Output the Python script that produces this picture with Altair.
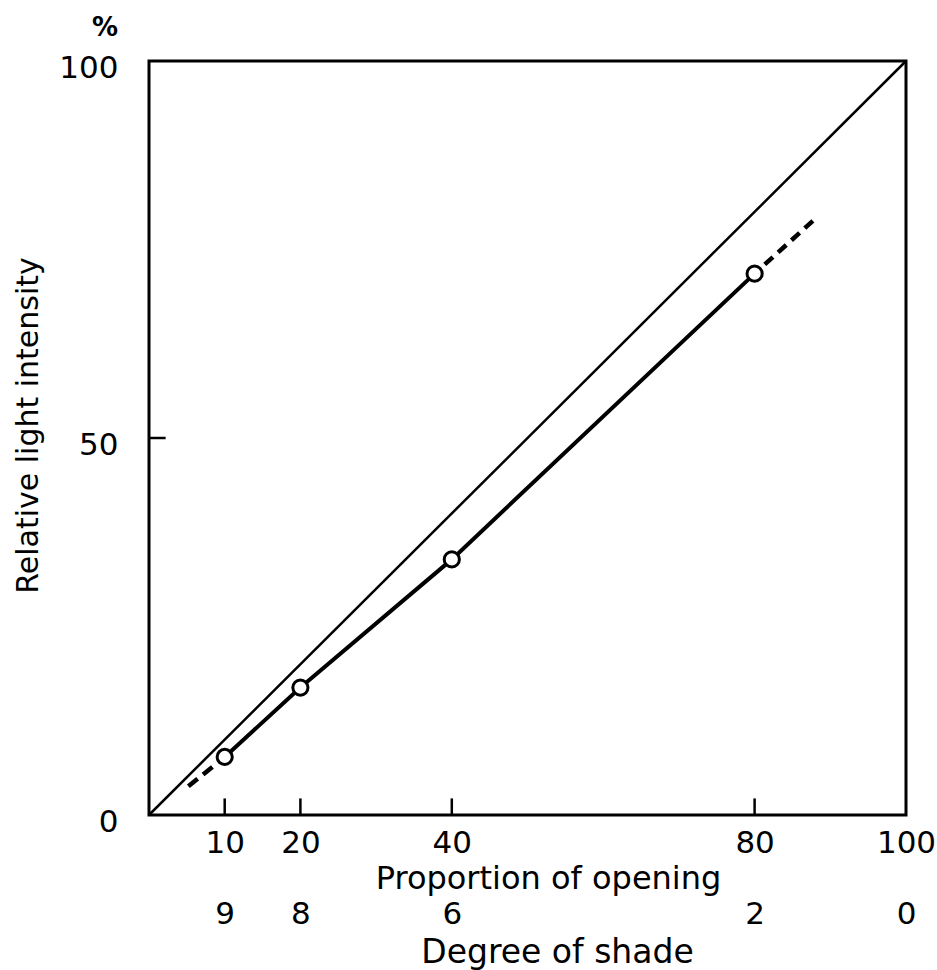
import altair as alt
import pandas as pd

# ---- data ----
opening = [10, 20, 40, 80]                 # proportion of opening (%)
intensity = [7.7, 16.9, 33.9, 71.8]        # relative light intensity (%)
dash_low_x = [10, 5.2]                     # dashed extension, drawn from the point outward
dash_low_y = [7.7, 3.8]
dash_high_x = [80, 87.7]
dash_high_y = [71.8, 78.8]
diag_x = [0, 100]
diag_y = [0, 100]
x_label_values = [10, 20, 40, 80, 100]
shade_labels = ["9", "8", "6", "2", "0"]
y_label_values = [0, 50, 100]
inner_x_ticks = [10, 20, 40, 80]
inner_y_ticks = [50]

FONT = "DejaVu Sans"
TICK_LEN = 2.2

pts = pd.DataFrame({"x": opening, "y": intensity})
diag = pd.DataFrame({"x": diag_x, "y": diag_y})
low = pd.DataFrame({"x": dash_low_x, "y": dash_low_y, "o": list(range(len(dash_low_x)))})
high = pd.DataFrame({"x": dash_high_x, "y": dash_high_y, "o": list(range(len(dash_high_x)))})
xt = pd.DataFrame({"x": inner_x_ticks, "y0": [0] * len(inner_x_ticks), "y1": [TICK_LEN] * len(inner_x_ticks)})
yt = pd.DataFrame({"y": inner_y_ticks, "x0": [0] * len(inner_y_ticks), "x1": [TICK_LEN] * len(inner_y_ticks)})

xs = alt.Scale(domain=[0, 100], nice=False, zero=False)
ys = alt.Scale(domain=[0, 100], nice=False, zero=False)

shade_expr = "''"
for v, l in reversed(list(zip(x_label_values, shade_labels))):
    shade_expr = f"datum.value == {v} ? '{l}' : {shade_expr}"

axis_x1 = alt.Axis(
    orient="bottom", values=x_label_values, ticks=False, domain=False, grid=False,
    tickSize=0, labelPadding=37, labelBaseline="alphabetic", labelFlush=False,
    labelFontSize=31, labelFont=FONT, labelColor="black",
    title="Proportion of opening", titleFontSize=32, titleFont=FONT,
    titleFontWeight="normal", titleColor="black",
    titleX=399, titleY=73, titleBaseline="alphabetic", titleAlign="center",
)
axis_x2 = alt.Axis(
    orient="bottom", offset=73, values=x_label_values, ticks=False, domain=False,
    grid=False, tickSize=0, labelPadding=35, labelBaseline="alphabetic",
    labelFlush=False, labelExpr=shade_expr, labelFontSize=31, labelFont=FONT,
    labelColor="black",
    title="Degree of shade", titleFontSize=33, titleFont=FONT,
    titleFontWeight="normal", titleColor="black",
    titleX=408, titleY=74, titleBaseline="alphabetic", titleAlign="center",
)
axis_y = alt.Axis(
    orient="left", values=y_label_values, ticks=False, domain=False, grid=False,
    tickSize=0, labelPadding=31, labelBaseline="middle", labelOffset=7,
    labelFlush=False, labelFontSize=31, labelFont=FONT, labelColor="black",
    title="Relative light intensity", titleFontSize=30, titleFont=FONT,
    titleFontWeight="normal", titleColor="black", titleAngle=270,
    titleX=-112, titleY=364, titleBaseline="alphabetic", titleAlign="center",
)

diag_layer = alt.Chart(diag).mark_line(color="black", strokeWidth=2.5).encode(
    x=alt.X("x:Q", scale=xs, axis=axis_x1),
    y=alt.Y("y:Q", scale=ys, axis=axis_y),
)

xtick_layer = alt.Chart(xt).mark_rule(color="black", strokeWidth=2.5).encode(
    x=alt.X("x:Q", scale=xs, axis=axis_x2),
    y=alt.Y("y0:Q", scale=ys, axis=None),
    y2="y1:Q",
)

ytick_layer = alt.Chart(yt).mark_rule(color="black", strokeWidth=2.5).encode(
    y=alt.Y("y:Q", scale=ys, axis=None),
    x=alt.X("x0:Q", scale=xs, axis=None),
    x2="x1:Q",
)

line_layer = alt.Chart(pts).mark_line(color="black", strokeWidth=4).encode(
    x=alt.X("x:Q", scale=xs, axis=None),
    y=alt.Y("y:Q", scale=ys, axis=None),
)

dash_low_layer = alt.Chart(low).mark_line(
    color="black", strokeWidth=4.5, strokeDash=[12, 7], strokeDashOffset=3.2
).encode(
    x=alt.X("x:Q", scale=xs, axis=None),
    y=alt.Y("y:Q", scale=ys, axis=None),
    order="o:Q",
)

dash_high_layer = alt.Chart(high).mark_line(
    color="black", strokeWidth=4.5, strokeDash=[11, 7], strokeDashOffset=4.3
).encode(
    x=alt.X("x:Q", scale=xs, axis=None),
    y=alt.Y("y:Q", scale=ys, axis=None),
    order="o:Q",
)

point_layer = alt.Chart(pts).mark_point(
    shape="circle", filled=True, fill="white", stroke="black",
    strokeWidth=3, size=230, opacity=1,
).encode(
    x=alt.X("x:Q", scale=xs, axis=None),
    y=alt.Y("y:Q", scale=ys, axis=None),
)

chart = alt.layer(
    diag_layer, xtick_layer, ytick_layer, line_layer,
    dash_low_layer, dash_high_layer, point_layer
).resolve_axis(x="independent", y="independent").properties(
    width=757,
    height=754,
    background="white",
    autosize=alt.AutoSizeParams(type="none"),
    padding={"left": 149, "top": 61, "right": 31, "bottom": 155},
    title=alt.TitleParams(
        text="%", anchor="start", frame="group", align="right", dx=-31, dy=33,
        baseline="alphabetic", offset=23, fontSize=26, fontWeight="bold",
        font=FONT, color="black",
    ),
).configure_view(
    stroke="black", strokeWidth=3
)

chart.save("out.html", embed_options={"renderer": "svg", "actions": False})
